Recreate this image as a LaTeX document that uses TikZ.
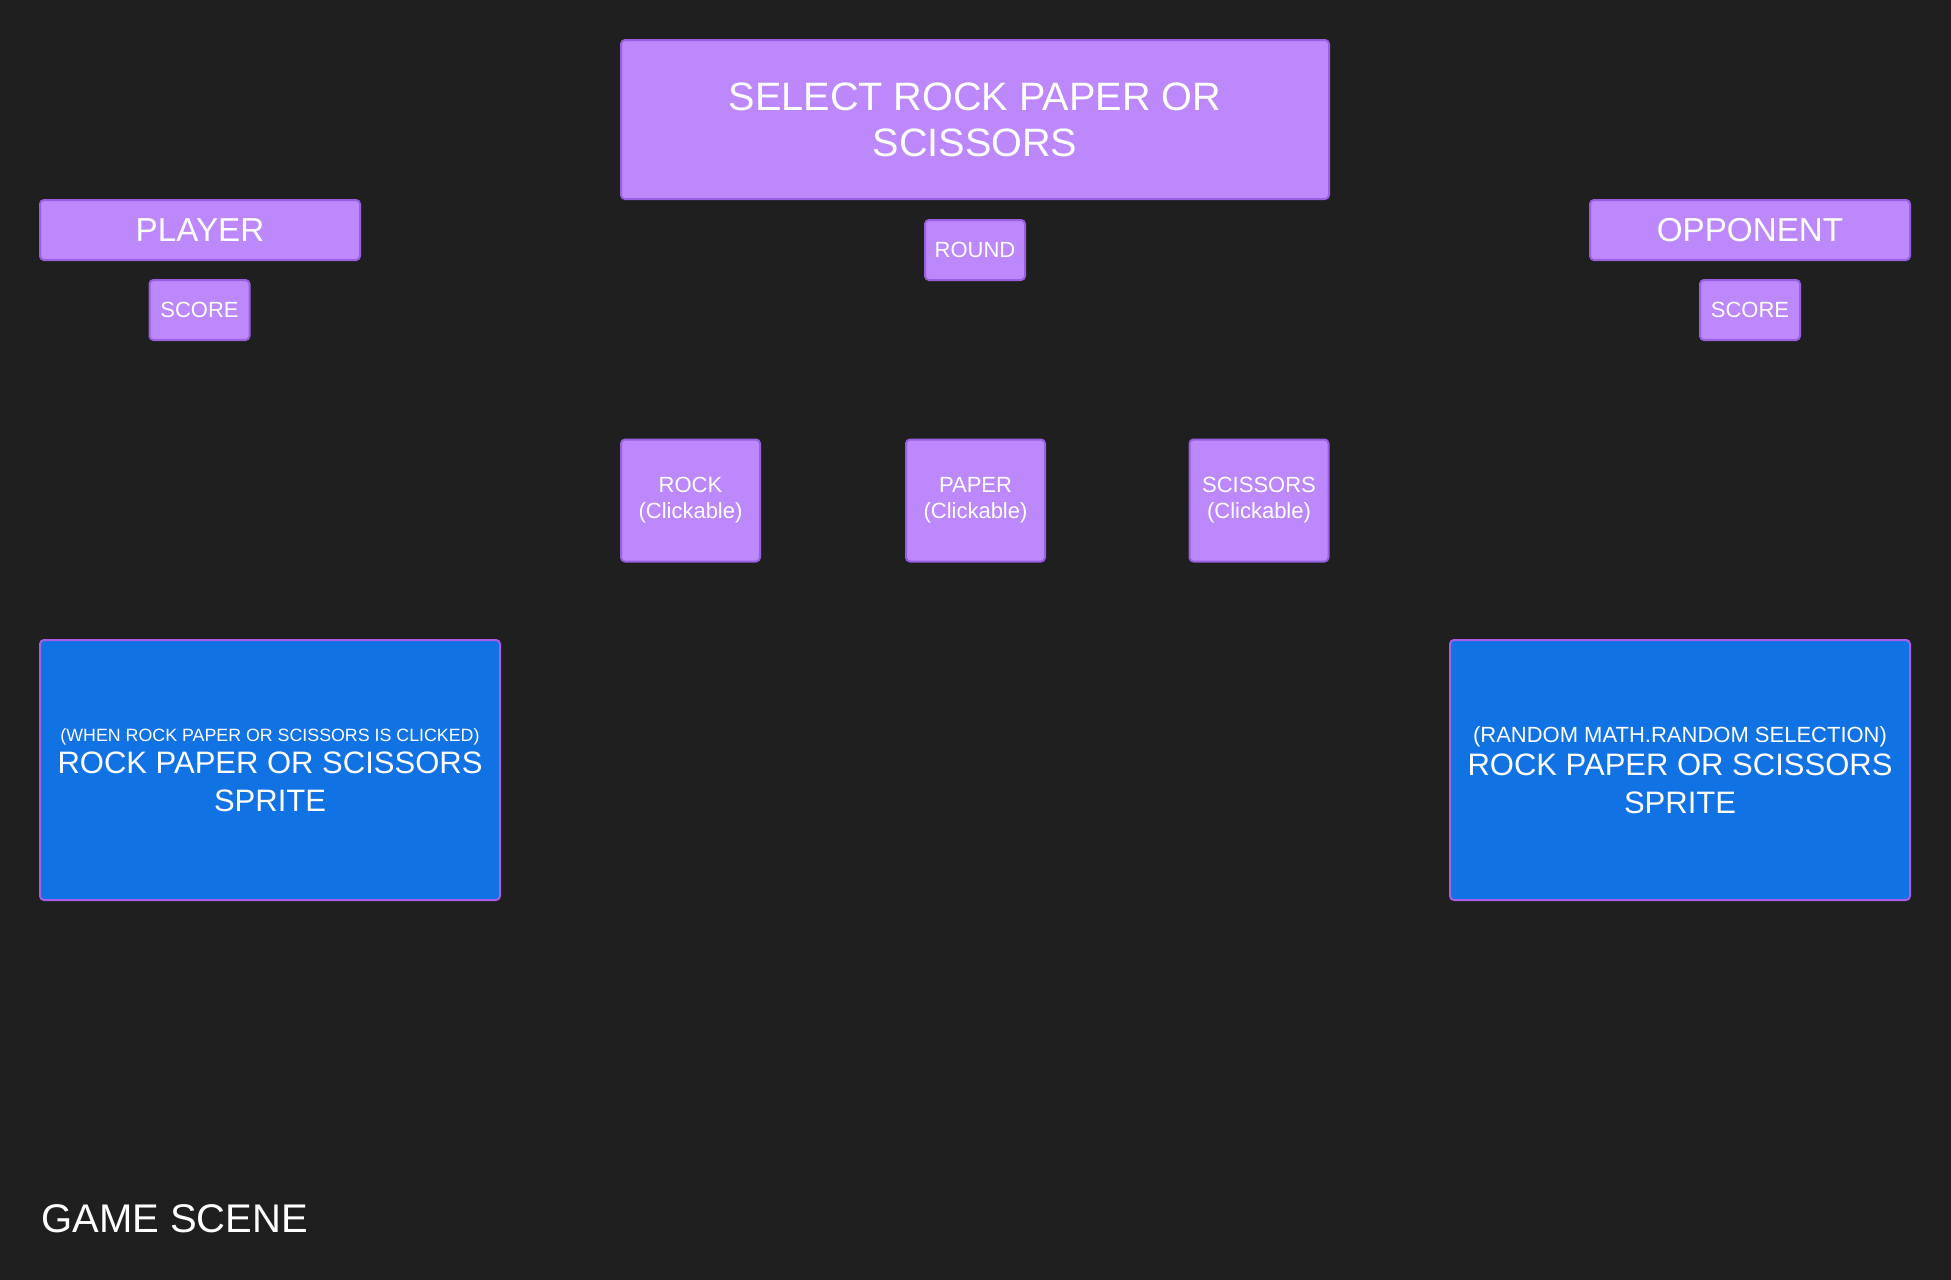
\documentclass[tikz,border=0pt]{standalone}
\usepackage{fontspec}
\setmainfont{Liberation Sans}
\definecolor{bgdark}{RGB}{31,31,31}
\definecolor{lilac}{RGB}{188,136,251}
\definecolor{lilacline}{RGB}{152,96,224}
\definecolor{spriteblue}{RGB}{17,114,228}
\definecolor{spriteline}{RGB}{168,92,232}
\begin{document}
\begin{tikzpicture}[x=0.5pt, y=-0.5pt, line join=round,
    box/.style={draw=lilacline, fill=lilac, line width=1pt, rounded corners=2pt, text=white, align=center, inner sep=0pt},
    sprite/.style={draw=spriteline, fill=spriteblue, line width=1pt, rounded corners=2pt, text=white, align=center, inner sep=0pt,
        minimum width=230pt, minimum height=130pt, font=\fontsize{15.5}{19}\selectfont}]
            \fill[bgdark] (0,0) rectangle (1951,1280);
            \useasboundingbox (0,0) rectangle (1951,1280);
            % top row
            \node[box, minimum width=354pt, minimum height=79.5pt, font=\fontsize{19.8}{23}\selectfont] (select) at (975,119.5) {SELECT ROCK PAPER OR\\SCISSORS};
            \node[box, minimum width=50pt, minimum height=30pt, font=\fontsize{11}{13}\selectfont] (round) at (975,250) {ROUND};
            \node[box, minimum width=160pt, minimum height=30pt, font=\fontsize{16.6}{19}\selectfont] (player) at (200,230) {PLAYER};
            \node[box, minimum width=50pt, minimum height=30pt, font=\fontsize{11}{13}\selectfont] (pscore) at (199.5,310) {SCORE};
            \node[box, minimum width=160pt, minimum height=30pt, font=\fontsize{16.6}{19}\selectfont] (opponent) at (1750,230) {OPPONENT};
            \node[box, minimum width=50pt, minimum height=30pt, font=\fontsize{11}{13}\selectfont] (oscore) at (1750,310) {SCORE};
            % the three choices
            \foreach \name/\txt/\x in {rock/ROCK/690.5, paper/PAPER/975.5, scissors/SCISSORS/1259}
                \node[box, minimum width=69.5pt, minimum height=61pt, font=\fontsize{11}{13}\selectfont] (\name) at (\x,500.5) {\txt\\(Clickable)};
            % sprites
            \node[sprite] (psprite) at (270,770) {{\fontsize{8.9}{10}\selectfont (WHEN ROCK PAPER OR SCISSORS IS CLICKED)}\\[-3pt]ROCK PAPER OR SCISSORS\\SPRITE};
            \node[sprite] (osprite) at (1680,770) {{\fontsize{11}{13}\selectfont (RANDOM MATH.RANDOM SELECTION)}\\[-2.5pt]ROCK PAPER OR SCISSORS\\SPRITE};
            \node[anchor=base west, inner sep=0pt, text=white, font=\fontsize{20}{23}\selectfont] (scene) at (41,1232) {GAME SCENE};
        \end{tikzpicture}
\end{document}
